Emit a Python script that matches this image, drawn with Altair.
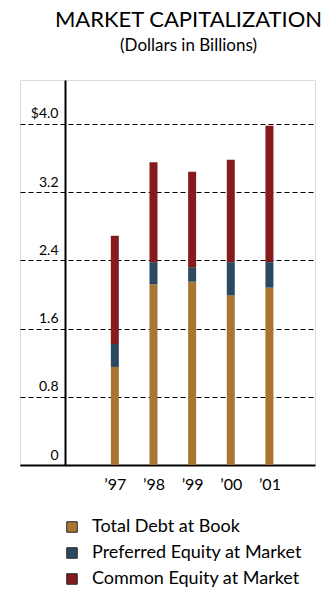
import json
import altair as alt
import pandas as pd

years = ["’97", "’98", "’99", "’00", "’01"]
debt = [1.15, 2.12, 2.15, 1.99, 2.08]
preferred = [0.27, 0.26, 0.17, 0.39, 0.30]
common = [1.27, 1.17, 1.12, 1.20, 1.60]
series = ["Total Debt at Book", "Preferred Equity at Market", "Common Equity at Market"]
colors = ["#A87632", "#2B4A62", "#851B1D"]
y_ticks = [0, 0.8, 1.6, 2.4, 3.2, 4.0]

rows = []
for i, y in enumerate(years):
    for k, (s, vals) in enumerate(zip(series, [debt, preferred, common])):
        rows.append({"idx": i, "year": y, "series": s, "order": k, "value": vals[i]})
df = pd.DataFrame(rows)

FONT = "Lato"
label_expr = "[" + ",".join(json.dumps(y) for y in years) + "][datum.value]"

bars = alt.Chart(df).mark_bar(size=8).encode(
    x=alt.X("idx:Q",
            scale=alt.Scale(domain=[-2.325, 5.05], nice=False, zero=False),
            axis=alt.Axis(values=list(range(len(years))), labelExpr=label_expr,
                          title=None, grid=False, ticks=False,
                          domainColor="black", domainWidth=2,
                          labelFont=FONT, labelFontSize=16, labelColor="black",
                          labelPadding=11)),
    y=alt.Y("value:Q", stack="zero",
            scale=alt.Scale(domain=[0, 4.516], nice=False),
            axis=alt.Axis(values=y_ticks, title=None, offset=-45,
                          labelExpr="datum.value == 4 ? '$4.0' : (datum.value == 0 ? '0' : format(datum.value, '.1f'))",
                          grid=True, gridColor="black", gridDash=[5, 3], gridWidth=1.2,
                          ticks=False, domainColor="black", domainWidth=2,
                          labelFont=FONT, labelFontSize=14, labelColor="black",
                          labelAlign="right", labelBaseline="bottom",
                          labelPadding=7, labelOffset=-3)),
    color=alt.Color("series:N", scale=alt.Scale(domain=series, range=colors),
                    legend=alt.Legend(title=None, orient="none", legendX=43, legendY=438,
                                      symbolType="square", symbolSize=110,
                                      symbolStrokeColor="#222", symbolStrokeWidth=1,
                                      labelFont=FONT, labelFontSize=18, labelColor="black",
                                      labelOffset=11, rowPadding=8, labelLimit=0)),
    order=alt.Order("order:Q"),
)

chart = bars.properties(
    width=295, height=385,
    title=alt.TitleParams(text="MARKET CAPITALIZATION", subtitle="(Dollars in Billions)",
                          anchor="middle", dx=21, offset=25,
                          font=FONT, fontSize=22, fontWeight="normal", color="black",
                          subtitleFont=FONT, subtitleFontSize=17, subtitleColor="black",
                          subtitlePadding=6),
    autosize=alt.AutoSizeParams(type="none"),
    padding={"left": 20, "top": 80, "right": 6, "bottom": 125},
).configure_view(stroke=None).configure(background="white")

chart.save("out.html", embed_options={"renderer": "svg", "actions": False})
